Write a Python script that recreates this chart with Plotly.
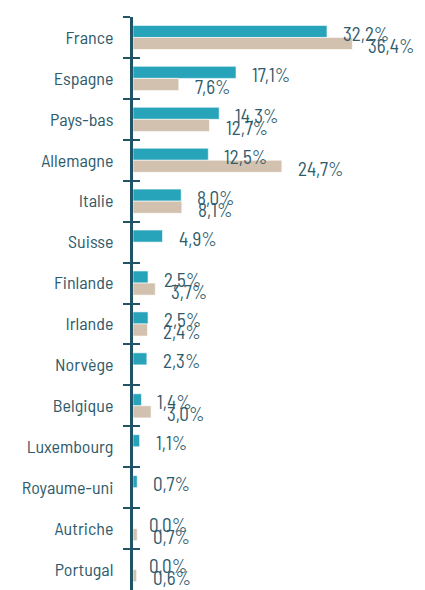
import plotly.graph_objects as go

categories = ["France", "Espagne", "Pays-bas", "Allemagne", "Italie", "Suisse", "Finlande",
              "Irlande", "Norvège", "Belgique", "Luxembourg", "Royaume-uni", "Autriche", "Portugal"]
series_a = [32.2, 17.1, 14.3, 12.5, 8.0, 4.9, 2.5, 2.5, 2.3, 1.4, 1.1, 0.7, 0.0, 0.0]
series_b = [36.4, 7.6, 12.7, 24.7, 8.1, None, 3.7, 2.4, None, 3.0, None, None, 0.7, 0.6]

TEAL = "#27a3ba"
BEIGE = "#d1c1ae"
TEXT = "#2f5b6b"
AXIS = "#1f5566"
FONT = "Barlow Semi Condensed, Roboto Condensed, sans-serif"

def fmt(v):
    return f"{v:.1f}".replace(".", ",") + "%"

fig = go.Figure()
fig.add_trace(go.Bar(y=categories, x=series_a, orientation="h", marker_color=TEAL,
                     marker_line=dict(color="rgba(255,255,255,0.6)", width=1), showlegend=False))
fig.add_trace(go.Bar(y=categories, x=series_b, orientation="h", marker_color=BEIGE,
                     marker_line=dict(color="rgba(255,255,255,0.6)", width=1), showlegend=False))
# invisible helper trace for the inside half of the tick marks
fig.add_trace(go.Scatter(y=categories, x=[0] * len(categories), mode="markers",
                         marker=dict(opacity=0), yaxis="y2", showlegend=False, hoverinfo="skip"))

annotations = []
for c, a, b in zip(categories, series_a, series_b):
    if a is not None:
        annotations.append(dict(x=a, y=c, text=fmt(a), xanchor="left", showarrow=False,
                                xshift=14, yshift=4, font=dict(size=19, color=TEXT, family=FONT)))
    if b is not None:
        annotations.append(dict(x=b, y=c, text=fmt(b), xanchor="left", showarrow=False,
                                xshift=14, yshift=-8, font=dict(size=19, color=TEXT, family=FONT)))

n = len(categories)
fig.update_layout(
    width=417, height=582,
    margin=dict(l=125, r=51, t=9, b=0, autoexpand=False),
    plot_bgcolor="white", paper_bgcolor="white",
    barmode="group", bargap=0.41, bargroupgap=0,
    font=dict(family=FONT, color=TEXT, size=19),
    annotations=annotations,
    xaxis=dict(range=[0, 40], visible=False, fixedrange=True),
    yaxis=dict(type="category", categoryarray=categories, categoryorder="array",
               range=[n - 0.5, -0.5], tickson="boundaries", ticks="outside", ticklen=7,
               tickwidth=2, tickcolor=AXIS, showline=True, linecolor=AXIS, linewidth=3,
               showgrid=False, zeroline=False, ticklabelstandoff=13, automargin=False,
               tickfont=dict(size=18, color=TEXT, family=FONT)),
    yaxis2=dict(type="category", categoryarray=categories, categoryorder="array",
                range=[n - 0.5, -0.5], overlaying="y", side="left", tickson="boundaries",
                ticks="inside", ticklen=7, tickwidth=2, tickcolor=AXIS, automargin=False,
                showticklabels=False, showgrid=False, showline=False, zeroline=False),
)

fig.write_html("out.html")
